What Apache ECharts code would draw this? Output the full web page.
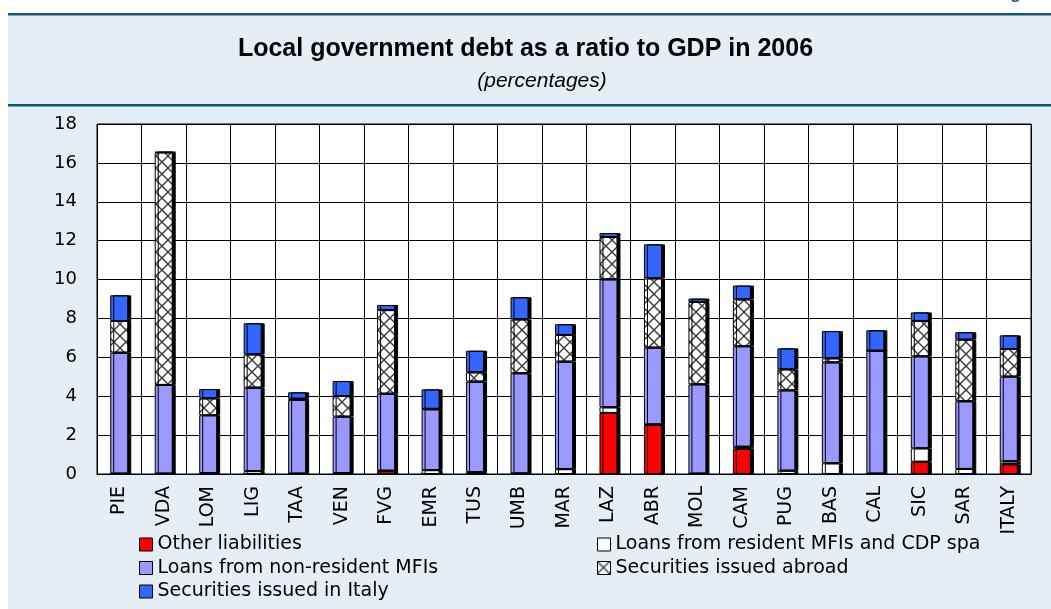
<!DOCTYPE html>
<html>
<head>
<meta charset="utf-8">
<script src="https://cdn.jsdelivr.net/npm/echarts@6/dist/echarts.min.js"></script>
<style>
  html, body { margin: 0; padding: 0; background: #ffffff; }
  #chart { width: 1051px; height: 609px; }
</style>
</head>
<body>
<div id="chart"></div>
<script>
// ---- data ----
const categories = ['PIE','VDA','LOM','LIG','TAA','VEN','FVG','EMR','TUS','UMB','MAR','LAZ','ABR','MOL','CAM','PUG','BAS','CAL','SIC','SAR','ITALY'];
const otherLiabilities   = [0, 0, 0, 0, 0, 0, 0.15, 0, 0, 0, 0, 3.14, 2.52, 0, 1.30, 0, 0, 0, 0.63, 0, 0.50];
const loansResident      = [0.02, 0.02, 0.05, 0.15, 0.02, 0.05, 0.02, 0.20, 0.10, 0.03, 0.25, 0.29, 0.03, 0.02, 0.10, 0.17, 0.55, 0.02, 0.69, 0.26, 0.15];
const loansNonResident   = [6.22, 4.56, 2.97, 4.29, 3.79, 2.90, 3.96, 3.13, 4.65, 5.15, 5.53, 6.58, 3.95, 4.59, 5.17, 4.13, 5.19, 6.32, 4.73, 3.48, 4.36];
const securitiesAbroad   = [1.63, 11.96, 0.87, 1.71, 0.06, 1.06, 4.30, 0.02, 0.48, 2.77, 1.37, 2.18, 3.56, 4.24, 2.41, 1.08, 0.21, 0, 1.82, 3.17, 1.42];
const securitiesItaly    = [1.32, 0.02, 0.48, 1.60, 0.33, 0.77, 0.26, 1.00, 1.11, 1.14, 0.55, 0.20, 1.75, 0.17, 0.71, 1.08, 1.40, 1.05, 0.44, 0.38, 0.70];
const yTicks = { min: 0, max: 18, interval: 2 };

const seriesNames = ['Other liabilities', 'Loans from resident MFIs and CDP spa', 'Loans from non-resident MFIs', 'Securities issued abroad', 'Securities issued in Italy'];

// crosshatch pattern
const pc = document.createElement('canvas');
pc.width = 12; pc.height = 12;
const g = pc.getContext('2d');
g.fillStyle = '#ffffff';
g.fillRect(0, 0, 12, 12);
g.strokeStyle = '#3a3a3a';
g.lineWidth = 1.4;
g.beginPath();
g.moveTo(0, 0); g.lineTo(12, 12);
g.moveTo(12, 0); g.lineTo(0, 12);
g.stroke();
const hatch = { image: pc, repeat: 'repeat' };

const colors = ['#ff0000', '#ffffff', '#9999ff', hatch, '#3366ff'];
const values = [otherLiabilities, loansResident, loansNonResident, securitiesAbroad, securitiesItaly];

const FONT = '"Liberation Sans", Arial, sans-serif';
const WFONT = '"DejaVu Sans", "Liberation Sans", sans-serif';

const series = seriesNames.map((name, i) => ({
  name: name,
  type: 'bar',
  stack: 'total',
  barWidth: 18,
  data: values[i],
  itemStyle: {
    color: colors[i],
    borderColor: '#000',
    borderWidth: 1,
    shadowColor: '#000',
    shadowBlur: 0,
    shadowOffsetX: 3,
    shadowOffsetY: 0
  },
  emphasis: { disabled: true },
  animation: false
}));

const legendCommon = {
  orient: 'vertical',
  padding: 0,
  itemWidth: 13,
  itemHeight: 13,
  itemGap: 4.5,
  icon: 'rect',
  selectedMode: false,
  textStyle: { fontFamily: WFONT, fontSize: 19, color: '#000' },
  itemStyle: { borderColor: '#000', borderWidth: 1, shadowBlur: 0, shadowOffsetX: 0, shadowOffsetY: 0, shadowColor: 'rgba(0,0,0,0)' }
};

const chart = echarts.init(document.getElementById('chart'), null, { renderer: 'canvas' });
chart.setOption({
  backgroundColor: '#ffffff',
  animation: false,
  graphic: [
    { type: 'rect', z: -10, silent: true, shape: { x: 8, y: 15, width: 1043, height: 594 }, style: { fill: '#e6eef5' } },
    { type: 'rect', z: -9, silent: true, shape: { x: 8, y: 13, width: 1043, height: 2.5 }, style: { fill: '#0d5878' } },
    { type: 'rect', z: -9, silent: true, shape: { x: 8, y: 104, width: 1043, height: 2.5 }, style: { fill: '#0d5878' } },
    { type: 'text', z: -8, silent: true, x: 1047, y: 3, style: { text: 'Figure', fill: '#1a5e88', font: 'bold 17px ' + FONT, textAlign: 'right', textVerticalAlign: 'bottom' } }
  ],
  title: [
    { text: 'Local government debt as a ratio to GDP in 2006', left: 'center', top: 32,
      textStyle: { fontFamily: FONT, fontSize: 25, fontWeight: 'bold', color: '#000' } },
    { text: '(percentages)', left: 537, textAlign: 'center', top: 66,
      textStyle: { fontFamily: FONT, fontSize: 21, fontStyle: 'italic', fontWeight: 'normal', color: '#000' } }
  ],
  legend: [
    Object.assign({}, legendCommon, { left: 139, top: 535, data: [seriesNames[0], seriesNames[2], seriesNames[4]] }),
    Object.assign({}, legendCommon, { left: 597, top: 535, data: [seriesNames[1], seriesNames[3]] })
  ],
  grid: { left: 97, right: 20, top: 124, bottom: 135, show: true, backgroundColor: '#ffffff', borderColor: '#000', borderWidth: 1, containLabel: false },
  xAxis: {
    type: 'category',
    data: categories,
    boundaryGap: true,
    axisLine: { show: true, lineStyle: { color: '#000', width: 1 } },
    axisTick: { show: false },
    splitLine: { show: true, interval: 0, lineStyle: { color: '#000', width: 1 } },
    axisLabel: { interval: 0, rotate: 90, margin: 12, fontFamily: WFONT, fontSize: 19, color: '#000' }
  },
  yAxis: {
    type: 'value',
    min: yTicks.min, max: yTicks.max, interval: yTicks.interval,
    axisLine: { show: false },
    axisTick: { show: false },
    splitLine: { show: true, lineStyle: { color: '#000', width: 1 } },
    axisLabel: { margin: 20, fontFamily: WFONT, fontSize: 18, color: '#000' }
  },
  series: series
});
</script>
</body>
</html>
